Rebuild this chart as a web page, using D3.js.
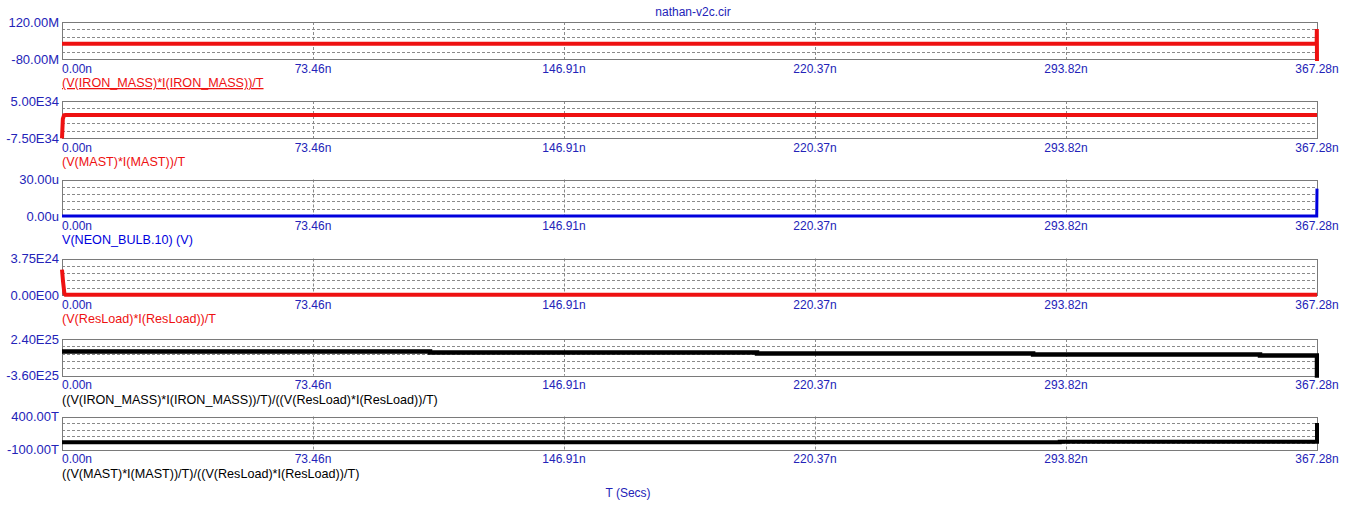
<!DOCTYPE html>
<html>
<head>
<meta charset="utf-8">
<script src="https://cdn.jsdelivr.net/npm/d3@7/dist/d3.min.js"></script>
<style>
  html, body { margin: 0; padding: 0; background: #ffffff; }
  svg { display: block; font-family: "Liberation Sans", Arial, sans-serif; }
</style>
</head>
<body>
<svg id="chart" width="1353" height="513"></svg>
<script>
// ---------------- data ----------------
const chartTitle = "nathan-v2c.cir";
const xAxisTitle = "T (Secs)";
const xTickValues = [0, 73.46, 146.91, 220.37, 293.82, 367.28];   // ns
const xTickLabels = ["0.00n", "73.46n", "146.91n", "220.37n", "293.82n", "367.28n"];

const traceNames = [
  "(V(IRON_MASS)*I(IRON_MASS))/T",
  "(V(MAST)*I(MAST))/T",
  "V(NEON_BULB.10) (V)",
  "(V(ResLoad)*I(ResLoad))/T",
  "((V(IRON_MASS)*I(IRON_MASS))/T)/((V(ResLoad)*I(ResLoad))/T)",
  "((V(MAST)*I(MAST))/T)/((V(ResLoad)*I(ResLoad))/T)"
];
const yDomains = [
  [-80e6, 120e6],
  [-7.5e34, 5e34],
  [0, 30e-6],
  [0, 3.75e24],
  [-3.6e25, 2.4e25],
  [-100e12, 400e12]
];
const yTopLabels = ["120.00M", "5.00E34", "30.00u", "3.75E24", "2.40E25", "400.00T"];
const yBottomLabels = ["-80.00M", "-7.50E34", "0.00u", "0.00E00", "-3.60E25", "-100.00T"];

// series: [time (ns), value]
const ironMassPower = [[0, 2e6], [367.18, 2e6], [367.23, 82e6], [367.28, -95e6]];
const mastPower = [[0, -7.6e34], [0.25, -1.0e34], [0.6, 0.2e34], [1.0, 0.3e34], [367.28, 0.3e34]];
const neonBulbV = [[0, 0], [367.2, 0], [367.28, 22.5e-6]];
const resLoadPower = [[0, 2.6e24], [0.3, 1.4e24], [0.7, 0.15e24], [1.0, 0.02e24], [367.28, 0.02e24]];
const ironOverLoad = [[0, 0.36e25], [107.7, 0.19e25], [203.4, 0.03e25], [284.2, -0.13e25], [350.6, -0.30e25], [367.28, -4.0e25]];
const mastOverLoad = [[0, 8e12], [292.0, 18e12], [367.28, 300e12]];

const seriesList = [ironMassPower, mastPower, neonBulbV, resLoadPower, ironOverLoad, mastOverLoad];
const traceColors = ["#ee1111", "#ee1111", "#0000dd", "#ee1111", "#000000", "#000000"];

// ---------------- layout ----------------
const svg = d3.select("#chart");
const left = 62, right = 1317;
const panelBoxes = [
  [22, 59], [101, 138], [179.5, 216], [258.5, 295], [339, 375.7], [416.5, 449.5]
];
const stepCurve = [false, false, false, false, true, true];
const lineWidths = [4, 4, 3, 4, 4.5, 4];
const labelBlue = "#2323b8";
const gridGrey = "#8a8a8a";

const x = d3.scaleLinear().domain([xTickValues[0], xTickValues[xTickValues.length - 1]]).range([left, right]);

svg.append("text")
  .attr("x", 693).attr("y", 16)
  .attr("text-anchor", "middle")
  .attr("font-size", 12)
  .attr("fill", labelBlue)
  .text(chartTitle);

svg.append("text")
  .attr("x", 628).attr("y", 497)
  .attr("text-anchor", "middle")
  .attr("font-size", 12)
  .attr("fill", labelBlue)
  .text(xAxisTitle);

const defs = svg.append("defs");

panelBoxes.forEach((box, i) => {
  const [top, bottom] = box;
  const y = d3.scaleLinear().domain(yDomains[i]).range([bottom, top]);
  const g = svg.append("g");

  // horizontal dashed grid (5 divisions)
  const yTicks = d3.range(1, 5).map(k => yDomains[i][0] + k * (yDomains[i][1] - yDomains[i][0]) / 5);
  g.selectAll(".hg").data(yTicks).enter().append("line")
    .attr("x1", left).attr("x2", right)
    .attr("y1", d => Math.round(y(d)) + 0.5).attr("y2", d => Math.round(y(d)) + 0.5)
    .attr("stroke", gridGrey).attr("stroke-width", 1).attr("stroke-dasharray", "3,2");

  // vertical dashed grid
  g.selectAll(".vg").data(xTickValues.slice(1, -1)).enter().append("line")
    .attr("x1", d => Math.round(x(d)) + 0.5).attr("x2", d => Math.round(x(d)) + 0.5)
    .attr("y1", top).attr("y2", bottom)
    .attr("stroke", gridGrey).attr("stroke-width", 1).attr("stroke-dasharray", "3,2");

  // border
  g.append("rect")
    .attr("x", left + 0.5).attr("y", Math.round(top) + 0.5)
    .attr("width", right - left).attr("height", Math.round(bottom) - Math.round(top))
    .attr("fill", "none").attr("stroke", "#7a7a7a").attr("stroke-width", 1);

  // clip
  const cid = "clip" + i;
  defs.append("clipPath").attr("id", cid).append("rect")
    .attr("x", left - 2).attr("y", top - 2)
    .attr("width", right - left + 4).attr("height", bottom - top + 4);

  const line = d3.line()
    .x(d => x(d[0]))
    .y(d => y(d[1]))
    .curve(stepCurve[i] ? d3.curveStepAfter : d3.curveLinear);

  g.append("path")
    .datum(seriesList[i])
    .attr("clip-path", "url(#" + cid + ")")
    .attr("d", line)
    .attr("fill", "none")
    .attr("stroke", traceColors[i])
    .attr("stroke-width", lineWidths[i])
    .attr("stroke-linejoin", "miter");

  // y labels
  g.append("text")
    .attr("x", 59).attr("y", top + 4.5)
    .attr("text-anchor", "end").attr("font-size", 13)
    .attr("fill", labelBlue).text(yTopLabels[i]);
  g.append("text")
    .attr("x", 59).attr("y", bottom + 4.5)
    .attr("text-anchor", "end").attr("font-size", 13)
    .attr("fill", labelBlue).text(yBottomLabels[i]);

  // x tick labels
  g.selectAll(".xl").data(xTickValues).enter().append("text")
    .attr("x", (d, k) => k === 0 ? left : x(d))
    .attr("y", bottom + 13.5)
    .attr("text-anchor", (d, k) => k === 0 ? "start" : "middle")
    .attr("font-size", 12)
    .attr("fill", labelBlue)
    .text((d, k) => xTickLabels[k]);

  // trace name
  g.append("text")
    .attr("x", left).attr("y", bottom + 28)
    .attr("font-size", 12.6)
    .attr("fill", traceColors[i])
    .attr("text-decoration", i === 0 ? "underline" : null)
    .text(traceNames[i]);
});
</script>
</body>
</html>
